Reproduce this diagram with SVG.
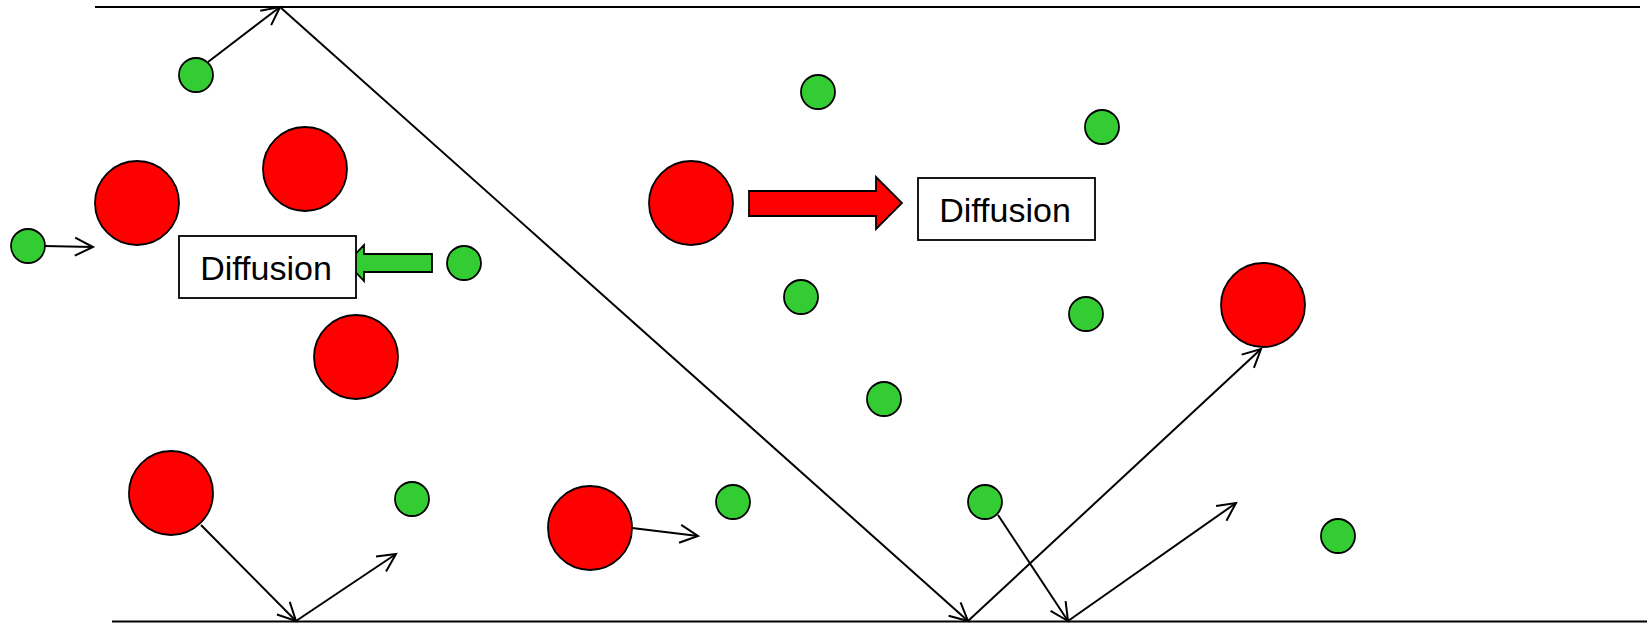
<svg xmlns="http://www.w3.org/2000/svg" width="1647" height="623" viewBox="0 0 1647 623">
<style>
.g{fill:#33CC33;stroke:#000;stroke-width:1.8}
.r{fill:#FF0000;stroke:#000;stroke-width:1.8}
.box{fill:#fff;stroke:#000;stroke-width:1.8}
.lbl{font-family:"Liberation Sans",Arial,sans-serif;font-size:34px;fill:#000;text-anchor:middle}
.wall{fill:none;stroke:#000;stroke-width:2}
.ar{fill:none;stroke:#000;stroke-width:2;marker-end:url(#head)}
</style>
<defs>
<marker id="head" markerUnits="userSpaceOnUse" markerWidth="44" markerHeight="44" viewBox="-22 -22 44 44" refX="0" refY="0" orient="auto" overflow="visible">
<path d="M -18 -9 L 0 0 L -18 9" fill="none" stroke="#000" stroke-width="2"/>
</marker>
</defs>
<rect width="1647" height="623" fill="#fff"/>
<g id="walls">
<line class="wall" x1="95" y1="7" x2="1640" y2="7"/>
<line class="wall" x1="112" y1="621.5" x2="1647" y2="621.5"/>
</g>
<g id="connectors">
<line class="ar" x1="208" y1="62" x2="280" y2="7"/>
<line class="ar" x1="280" y1="7" x2="968" y2="621"/>
<line class="ar" x1="968" y1="621" x2="1261" y2="349"/>
<line class="ar" x1="44" y1="246" x2="93" y2="247"/>
<line class="ar" x1="201" y1="525" x2="296" y2="621"/>
<line class="ar" x1="296" y1="621" x2="396" y2="554"/>
<line class="ar" x1="632" y1="528" x2="698" y2="536"/>
<line class="ar" x1="998" y1="515" x2="1068" y2="621"/>
<line class="ar" x1="1068" y1="621" x2="1236" y2="503"/>
<polygon id="green-arrow" points="347,263 364,245 364,254 432,254 432,272 364,272 364,281" fill="#33CC33" stroke="#000" stroke-width="1.8"/>
<polygon id="red-arrow" points="749,191 876,191 876,177 902,203 876,229 876,216 749,216" fill="#FF0000" stroke="#000" stroke-width="1.8"/>
</g>
<g id="red1"><circle class="r" cx="137" cy="203" r="42"/></g>
<g id="red2"><circle class="r" cx="305" cy="169" r="42"/></g>
<g id="red3"><circle class="r" cx="356" cy="357" r="42"/></g>
<g id="red4"><circle class="r" cx="171" cy="493" r="42"/></g>
<g id="red5"><circle class="r" cx="691" cy="203" r="42"/></g>
<g id="red6"><circle class="r" cx="590" cy="528" r="42"/></g>
<g id="red7"><circle class="r" cx="1263" cy="305" r="42"/></g>
<g id="greenA"><circle class="g" cx="196" cy="75" r="17"/></g>
<g id="greenB"><circle class="g" cx="28" cy="246" r="17"/></g>
<g id="greenC"><circle class="g" cx="464" cy="263" r="17"/></g>
<g id="greenD"><circle class="g" cx="412" cy="499" r="17"/></g>
<g id="greenE"><circle class="g" cx="818" cy="92" r="17"/></g>
<g id="greenF"><circle class="g" cx="1102" cy="127" r="17"/></g>
<g id="greenG"><circle class="g" cx="801" cy="297" r="17"/></g>
<g id="greenH"><circle class="g" cx="1086" cy="314" r="17"/></g>
<g id="greenI"><circle class="g" cx="884" cy="399" r="17"/></g>
<g id="greenJ"><circle class="g" cx="733" cy="502" r="17"/></g>
<g id="greenK"><circle class="g" cx="985" cy="502" r="17"/></g>
<g id="greenL"><circle class="g" cx="1338" cy="536" r="17"/></g>
<g id="diffusion1">
<rect class="box" x="179" y="236" width="177" height="62"/>
<text class="lbl" x="266" y="280">Diffusion</text>
</g>
<g id="diffusion2">
<rect class="box" x="918" y="178" width="177" height="62"/>
<text class="lbl" x="1005" y="222">Diffusion</text>
</g>
</svg>
